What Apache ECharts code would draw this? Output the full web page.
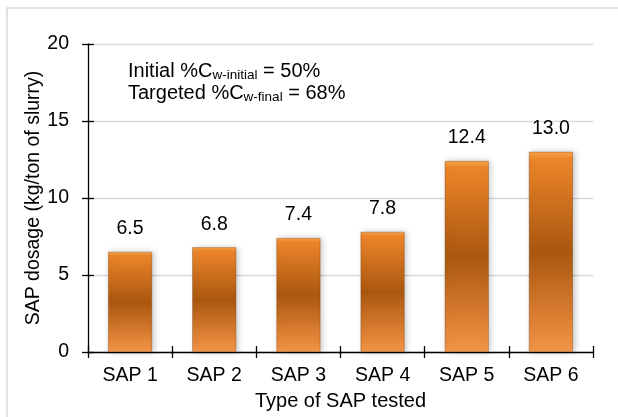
<!DOCTYPE html>
<html>
<head>
<meta charset="utf-8">
<style>
  html, body { margin: 0; padding: 0; background: #ffffff; }
  #chart { width: 618px; height: 417px; }
</style>
<script src="https://cdn.jsdelivr.net/npm/echarts@6/dist/echarts.min.js"></script>
</head>
<body>
<div id="chart"></div>
<script>
// SAP types and required dosage (kg per ton of slurry)
var categories = ['SAP 1', 'SAP 2', 'SAP 3', 'SAP 4', 'SAP 5', 'SAP 6'];
var dosage = [6.5, 6.8, 7.4, 7.8, 12.4, 13.0];
var yTicks = [0, 5, 10, 15, 20];

var FONT = '"Liberation Sans", Arial, sans-serif';
var FS = 19.5;

var barFill = new echarts.graphic.LinearGradient(0, 0, 0, 1, [
  { offset: 0, color: '#F9A84E' },
  { offset: 0.035, color: '#EC8529' },
  { offset: 0.5, color: '#AA5710' },
  { offset: 0.9, color: '#E6883A' },
  { offset: 1, color: '#F2964B' }
]);

var chart = echarts.init(document.getElementById('chart'), null, { renderer: 'canvas' });

// shared axis styling
var axisPen = { color: '#000', width: 1.3 };

chart.setOption({
  backgroundColor: '#ffffff',
  animation: false,
  grid: { left: 88, right: 25, top: 44, bottom: 65, outerBoundsMode: 'none', containLabel: false },
  graphic: [
    {
      type: 'rect',
      shape: { x: 7, y: 8, width: 640, height: 440 },
      style: { fill: 'none', stroke: '#D9D9D9', lineWidth: 1.5 },
      silent: true
    },
    {
      type: 'text',
      left: 128,
      top: 59,
      style: {
        text: '{m|Initial %C}{s|w-initial}{m| = 50%}\n{m|Targeted %C}{s|w-final}{m| = 68%}',
        rich: {
          m: { fontFamily: FONT, fontSize: 20, color: '#000', lineHeight: 22, verticalAlign: 'middle' },
          s: { fontFamily: FONT, fontSize: 13.5, color: '#000', lineHeight: 22, verticalAlign: 'bottom', padding: [9, 0, 0, 0] }
        }
      }
    }
  ],
  xAxis: [{
    type: 'category',
    data: categories,
    name: 'Type of SAP tested',
    nameLocation: 'middle',
    nameGap: 39,
    nameMoveOverlap: false,
    nameTextStyle: { fontFamily: FONT, fontSize: 20, color: '#000' },
    axisLine: { lineStyle: axisPen },
    axisTick: { show: true, length: 6, lineStyle: axisPen },
    axisLabel: { fontFamily: FONT, fontSize: FS, color: '#000', margin: 14 }
  }, {
    // inner half of the crossing tick marks
    type: 'category',
    data: categories,
    position: 'bottom',
    axisLine: { show: false },
    axisTick: { show: true, inside: true, length: 6, lineStyle: axisPen },
    axisLabel: { show: false },
    splitLine: { show: false }
  }],
  yAxis: [{
    type: 'value',
    min: yTicks[0],
    max: yTicks[yTicks.length - 1],
    interval: 5,
    name: 'SAP dosage (kg/ton of slurry)',
    nameLocation: 'middle',
    nameGap: 44,
    nameMoveOverlap: false,
    nameTextStyle: { fontFamily: FONT, fontSize: FS, color: '#000' },
    axisLine: { show: true, lineStyle: axisPen },
    axisTick: { show: true, length: 6, lineStyle: axisPen },
    axisLabel: { fontFamily: FONT, fontSize: FS, color: '#000', margin: 19 },
    splitLine: { lineStyle: { color: '#D9D9D9', width: 1.3 } }
  }, {
    type: 'value',
    min: yTicks[0],
    max: yTicks[yTicks.length - 1],
    interval: 5,
    position: 'left',
    axisLine: { show: false },
    axisTick: { show: true, inside: true, length: 6, lineStyle: axisPen },
    axisLabel: { show: false },
    splitLine: { show: false }
  }],
  series: [{
    type: 'bar',
    data: dosage,
    barWidth: 44,
    itemStyle: {
      color: barFill,
      borderColor: 'rgba(120,60,10,0.6)',
      borderWidth: 0.6,
      shadowColor: 'rgba(0,0,0,0.22)',
      shadowBlur: 6,
      shadowOffsetX: 2,
      shadowOffsetY: 0
    },
    label: {
      show: true,
      position: 'top',
      distance: 13,
      fontFamily: FONT,
      fontSize: FS,
      color: '#000',
      formatter: function (p) { return p.value.toFixed(1); }
    }
  }]
});
</script>
</body>
</html>
